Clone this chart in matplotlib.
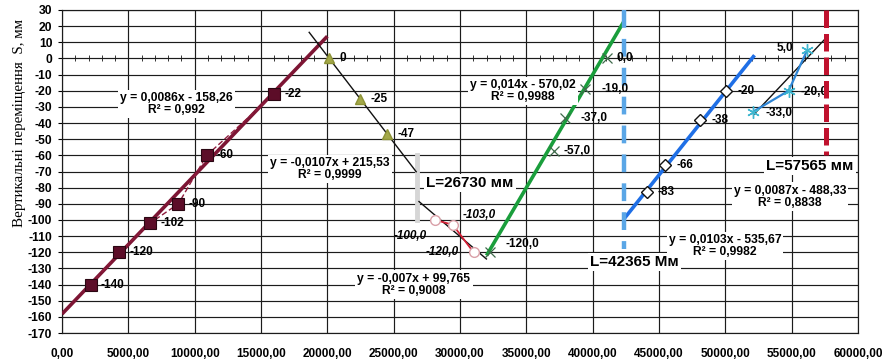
import matplotlib
matplotlib.use("Agg")
import matplotlib.pyplot as plt
from matplotlib.ticker import MultipleLocator, FuncFormatter

plt.rcParams['font.family'] = ['Liberation Sans', 'DejaVu Sans']

# ---- measured points: horizontal position (mm) and vertical displacement S (mm)
s1_x = [2160, 4320, 6640, 8770, 10910, 16000]
s1_y = [-140, -120, -102, -90, -60, -22]

s2_x = [20140, 22470, 24530]
s2_y = [0, -25, -47]

s3_x = [28130, 29460, 31020]
s3_y = [-100.0, -103.0, -120.0]

s4_x = [32230, 37050, 37930, 39440, 41070]
s4_y = [-120.0, -57.0, -37.0, -19.0, 0.0]

s5_x = [44090, 45470, 48110, 50070]
s5_y = [-83, -66, -38, -20]

s6_x = [52090, 54770, 56160]
s6_y = [-33.0, -20.0, 5.0]

# ---- linear trends: slope, intercept, R², span along x
trend1 = (0.0086, -158.26, 0.992, 0, 20000)
trend2 = (-0.0107, 215.53, 0.9999, 18600, 26730)
trend3 = (-0.007, 99.765, 0.9008, 26870, 32030)
trend4 = (0.014, -570.02, 0.9988, 32000, 42365)
trend5 = (0.0103, -535.67, 0.9982, 42365, 52200)
trend6 = (0.0087, -488.33, 0.8838, 52090, 57565)

# ---- section boundaries L (mm)
L_values = [26730, 42365, 57565]
L_units = ["мм", "Мм", "мм"]

x_ticks = list(range(0, 60001, 5000))
y_ticks = list(range(-170, 31, 10))


def dec(v):
    return str(v).replace('.', ',')


def eq_text(tr):
    k, b, r2 = tr[0], tr[1], tr[2]
    sign = '-' if b < 0 else '+'
    return f"y = {dec(k)}x {sign} {dec(abs(b))}\nR² = {dec(r2)}"


PX = 72 / 100  # points per pixel at 100 dpi

fig = plt.figure(figsize=(8.85, 3.6), dpi=100)
ax = fig.add_axes([62 / 885, 27 / 360, 796 / 885, 323 / 360])
ax.set_xlim(0, 60000)
ax.set_ylim(-170, 30)

ax.set_xticks(x_ticks)
ax.set_yticks(y_ticks)
ax.xaxis.set_major_formatter(FuncFormatter(lambda v, p: f"{v:.2f}".replace('.', ',')))
ax.yaxis.set_major_formatter(FuncFormatter(lambda v, p: f"{int(round(v))}"))
ax.tick_params(axis='x', length=0, pad=11, labelsize=8.5)
ax.tick_params(axis='y', length=3, pad=4, labelsize=8.7)
for lab in ax.get_xticklabels() + ax.get_yticklabels():
    lab.set_fontweight('bold')
ax.grid(True, color='#1c1c1c', lw=0.85)
ax.set_axisbelow(True)
for sp in ax.spines.values():
    sp.set_color('#1c1c1c')
    sp.set_linewidth(0.85)

# axis line through S = 0 with minor ticks
sec = ax.secondary_xaxis(170 / 200)
sec.xaxis.set_major_locator(MultipleLocator(1000))
sec.tick_params(axis='x', direction='inout', length=4, width=0.7, color='#333333',
                labeltop=False, labelbottom=False)
sec.spines['top'].set_visible(False)
sec.spines['bottom'].set_visible(False)


def trend(tr, color, lw, z=3):
    k, b, _, x0, x1 = tr
    ax.plot([x0, x1], [k * x0 + b, k * x1 + b], color=color, lw=lw, zorder=z,
            solid_capstyle='butt')


def labels(xs, ys, fmt, offsets, italic=False, ha='left'):
    for x, y, (dx, dy) in zip(xs, ys, offsets):
        ax.annotate(fmt(y), (x, y), xytext=(dx * PX, -dy * PX), textcoords='offset points',
                    ha=ha, va='center', fontsize=8.5, fontweight='bold',
                    style='italic' if italic else 'normal', zorder=6)


int_fmt = lambda v: f"{int(v)}"
one_fmt = lambda v: f"{v:.1f}".replace('.', ',')

# section 1 (maroon squares)
ax.plot(s1_x, s1_y, color='#8e1c3c', lw=1.0, ls=(0, (4, 2)), zorder=4)
trend(trend1, '#7d1534', 2.6)
ax.plot(s1_x, s1_y, ls='none', marker='s', ms=8, mfc='#5c0d28', mec='#2a0612', mew=0.8, zorder=5)
labels(s1_x, s1_y, int_fmt, [(10, 0)] * 6)

# section 2 (olive triangles)
trend(trend2, '#111111', 1.0)
ax.plot(s2_x, s2_y, ls='none', marker='^', ms=7, mfc='#a3a848', mec='#8c9236', zorder=5)
labels(s2_x, s2_y, int_fmt, [(10, 0)] * 3)

# section 3 (red line with open circles)
trend(trend3, '#111111', 1.0)
ax.plot(s3_x, s3_y, color='#d41f35', lw=1.3, zorder=4)
ax.plot(s3_x, s3_y, ls='none', marker='o', ms=7, mfc='white', mec='#d9a0a8', mew=1.0, zorder=5)
s3_off = [(-8, 16), (10, -10), (-15, 0)]
for (x, y), (dx, dy), ha in zip(zip(s3_x, s3_y), s3_off, ['right', 'left', 'right']):
    ax.annotate(one_fmt(y), (x, y), xytext=(dx * PX, -dy * PX), textcoords='offset points',
                ha=ha, va='center', fontsize=8.5, fontweight='bold', style='italic', zorder=6)

# section 4 (green)
trend(trend4, '#1a9e3c', 2.6)
ax.plot(s4_x, s4_y, ls='none', marker='x', ms=7, mec='#3e6a4a', mew=0.9, zorder=5)
labels(s4_x, s4_y, one_fmt, [(16, -8), (10, 0), (15, 0), (16, 0), (10, 0)])

# section 5 (blue with open diamonds)
trend(trend5, '#1f6fe6', 2.6)
ax.plot(s5_x, s5_y, ls='none', marker='D', ms=6, mfc='white', mec='#111111', mew=1.0, zorder=5)
labels(s5_x, s5_y, int_fmt, [(11, 0)] * 4)

# section 6 (cyan asterisks)
trend(trend6, '#111111', 1.0)
ax.plot(s6_x, s6_y, color='#2f86d6', lw=1.6, zorder=4)
ax.plot(s6_x, s6_y, ls='none', marker=(6, 2, 0), ms=9, mec='#3fb6cf', mew=1.0, zorder=5)
ax.annotate(one_fmt(s6_y[0]), (s6_x[0], s6_y[0]), xytext=(12 * PX, -1 * PX),
            textcoords='offset points', ha='left', va='center', fontsize=8.5, fontweight='bold')
ax.annotate(one_fmt(s6_y[1]), (s6_x[1], s6_y[1]), xytext=(12 * PX, -1 * PX),
            textcoords='offset points', ha='left', va='center', fontsize=8.5, fontweight='bold')
ax.annotate(one_fmt(s6_y[2]), (s6_x[2], s6_y[2]), xytext=(-14 * PX, 2 * PX),
            textcoords='offset points', ha='right', va='center', fontsize=8.5, fontweight='bold')

# section boundaries
ax.plot([L_values[0]] * 2, [-60, -100], color='#d6d6d6', lw=3.5, zorder=2)
ax.plot([L_values[1]] * 2, [30, -118], color='#5aa6e6', lw=3.2, ls=(0, (4, 2.5)), zorder=4)
ax.plot([L_values[2]] * 2, [30, -60], color='#c0122e', lw=3.6, ls=(0, (3.5, 1.2)), zorder=4)

# trend equations
box = dict(facecolor='white', edgecolor='none', pad=1.5)
eq_pos = [(8600, -28), (20200, -68.7), (26530, -140), (34750, -20),
          (49980, -116), (54880, -85.5)]
for tr, (x, y) in zip([trend1, trend2, trend3, trend4, trend5, trend6], eq_pos):
    ax.text(x, y, eq_text(tr), ha='center', va='center', multialignment='center',
            fontsize=8.7, fontweight='bold', bbox=box, zorder=7, linespacing=1.0)

# boundary captions
L_pos = [(30750, -77), (43120, -126), (56390, -66.6)]
for val, unit, (x, y) in zip(L_values, L_units, L_pos):
    ax.text(x, y, f"L={val} {unit}", ha='center', va='center', fontsize=11,
            fontweight='bold', bbox=dict(facecolor='white', edgecolor='none', pad=1.5), zorder=7)

fig.text(20 / 885, 0.658, "Вертикальні переміщення  S, мм", rotation=90,
         ha='center', va='center', fontsize=10.8, family=['Liberation Serif', 'DejaVu Serif'])

fig.savefig("out.png", dpi=100)
